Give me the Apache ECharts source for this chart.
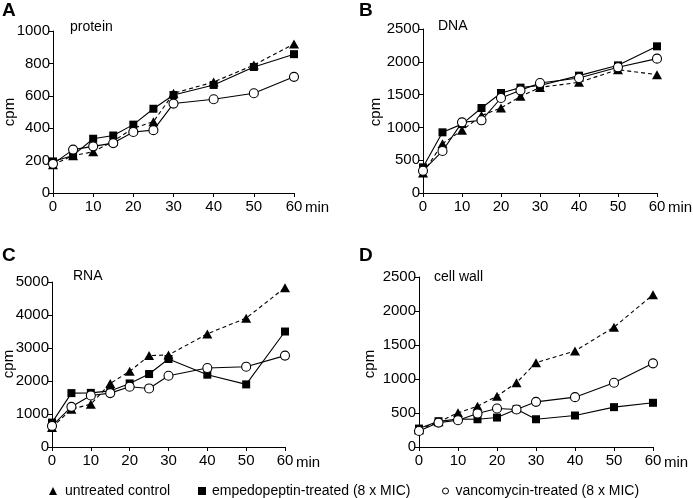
<!DOCTYPE html>
<html>
<head>
<meta charset="utf-8">
<script src="https://cdn.jsdelivr.net/npm/echarts@6/dist/echarts.min.js"></script>
<style>
html,body{margin:0;padding:0;background:#fff;}
#c{width:693px;height:498px;}
</style>
</head>
<body>
<div id="c"></div>
<script>
// ---- data ----
const times = [0, 5, 10, 15, 20, 25, 30, 40, 50, 60];
const xTicks = [0, 10, 20, 30, 40, 50, 60];

const proteinControl = [175, 230, 255, 320, 400, 440, 615, 685, 790, 920];
const proteinEmped   = [195, 232, 335, 355, 422, 520, 605, 667, 778, 857];
const proteinVanco   = [180, 268, 288, 308, 377, 388, 552, 579, 616, 717];

const dnaControl = [305, 752, 955, 1180, 1296, 1473, 1610, 1687, 1880, 1804];
const dnaEmped   = [391, 925, 1050, 1296, 1524, 1606, 1640, 1789, 1946, 2236];
const dnaVanco   = [340, 640, 1077, 1108, 1448, 1565, 1677, 1753, 1916, 2048];

const rnaControl = [590, 1146, 1298, 1927, 2292, 2769, 2789, 3428, 3905, 4828];
const rnaEmped   = [740, 1633, 1640, 1700, 1927, 2211, 2667, 2191, 1897, 3499];
const rnaVanco   = [639, 1217, 1562, 1633, 1826, 1775, 2160, 2394, 2434, 2769];

const wallControl = [255, 370, 502, 600, 748, 945, 1240, 1412, 1762, 2239];
const wallEmped   = [271, 379, 410, 408, 433, 556, 408, 463, 586, 650];
const wallVanco   = [236, 359, 394, 492, 566, 551, 664, 733, 945, 1230];

const seriesNames = ['untreated control', 'empedopeptin-treated (8 x MIC)', 'vancomycin-treated (8 x MIC)'];
const panelLetters = ['A', 'B', 'C', 'D'];
const panelTitles = ['protein', 'DNA', 'RNA', 'cell wall'];
const yMax = [1000, 2500, 5000, 2500];
const yStep = [200, 500, 1000, 500];

// ---- layout ----
const FONT = '"Liberation Sans", Arial, Helvetica, sans-serif';
const grids = [
  {left: 53, top: 31, width: 241, height: 162},
  {left: 423, top: 29, width: 234, height: 164},
  {left: 52, top: 282, width: 233, height: 165},
  {left: 419, top: 277, width: 234, height: 170}
];
const panelData = [
  [proteinControl, proteinEmped, proteinVanco],
  [dnaControl, dnaEmped, dnaVanco],
  [rnaControl, rnaEmped, rnaVanco],
  [wallControl, wallEmped, wallVanco]
];

const pair = arr => times.map((t, i) => [t, arr[i]]);

const xAxes = [], yAxes = [], series = [], graphics = [];
grids.forEach((g, k) => {
  xAxes.push({
    type: 'value', gridIndex: k, min: 0, max: 60, interval: 10,
    splitLine: {show: false},
    axisLine: {show: true, onZero: false, lineStyle: {color: '#000', width: 1}},
    axisTick: {show: true, length: 4, lineStyle: {color: '#000'}},
    axisLabel: {color: '#000', fontSize: 15, fontFamily: FONT, margin: 6, formatter: v => String(v)}
  });
  yAxes.push({
    type: 'value', gridIndex: k, min: 0, max: yMax[k], interval: yStep[k],
    splitLine: {show: false},
    axisLine: {show: true, lineStyle: {color: '#000', width: 1}},
    axisTick: {show: true, length: 4, lineStyle: {color: '#000'}},
    axisLabel: {color: '#000', fontSize: 15, fontFamily: FONT, margin: 3, formatter: v => String(v)}
  });
  const d = panelData[k];
  series.push({
    name: seriesNames[0], type: 'line', xAxisIndex: k, yAxisIndex: k,
    data: pair(d[0]), symbol: 'triangle', symbolSize: [10, 9],
    itemStyle: {color: '#000'}, lineStyle: {color: '#000', width: 1.1, type: [4, 3]},
    animation: false, z: 2
  });
  series.push({
    name: seriesNames[1], type: 'line', xAxisIndex: k, yAxisIndex: k,
    data: pair(d[1]), symbol: 'rect', symbolSize: 8,
    itemStyle: {color: '#000'}, lineStyle: {color: '#000', width: 1.1},
    animation: false, z: 3
  });
  series.push({
    name: seriesNames[2], type: 'line', xAxisIndex: k, yAxisIndex: k,
    data: pair(d[2]), symbol: 'circle', symbolSize: 9, showAllSymbol: true,
    itemStyle: {color: '#fff', borderColor: '#000', borderWidth: 1.1},
    lineStyle: {color: '#000', width: 1.1},
    animation: false, z: 4
  });
});

// panel letters, titles, axis names
const letterPos = [[2, 10], [359, 10], [2, 255], [359, 255]];
const titlePos = [[70, 27], [438, 26], [73, 276], [434, 277]];
const cpmPos = [[10, 112], [376, 112], [9, 364], [370, 364]];
const minPos = [[305, 208], [668, 208], [296, 463], [664, 463]];
for (let k = 0; k < 4; k++) {
  graphics.push({type: 'text', left: letterPos[k][0], top: letterPos[k][1] - 9,
    style: {text: panelLetters[k], font: 'bold 19px ' + FONT, fill: '#000'}});
  graphics.push({type: 'text', x: titlePos[k][0], y: titlePos[k][1],
    style: {text: panelTitles[k], font: '14px ' + FONT, fill: '#000', textVerticalAlign: 'middle'}});
  graphics.push({type: 'text', x: cpmPos[k][0], y: cpmPos[k][1], rotation: Math.PI / 2,
    style: {text: 'cpm', font: '15px ' + FONT, fill: '#000', textAlign: 'center', textVerticalAlign: 'middle'}});
  graphics.push({type: 'text', x: minPos[k][0], y: minPos[k][1],
    style: {text: 'min', font: '15px ' + FONT, fill: '#000', textVerticalAlign: 'middle'}});
}

const legendBase = {
  orient: 'horizontal', top: 479, itemWidth: 8, itemHeight: 8,
  textStyle: {color: '#000', fontSize: 14, fontFamily: FONT},
  selectedMode: false
};
const legends = [
  Object.assign({}, legendBase, {left: 44, data: [{name: seriesNames[0], icon: 'triangle', itemStyle: {color: '#000'}}],
    textStyle: Object.assign({}, legendBase.textStyle, {padding: [0, 0, 0, 3]})}),
  Object.assign({}, legendBase, {left: 193, data: [{name: seriesNames[1], icon: 'rect', itemStyle: {color: '#000'}}],
    textStyle: Object.assign({}, legendBase.textStyle, {padding: [0, 0, 0, 1]})}),
  Object.assign({}, legendBase, {left: 437, itemWidth: 6, itemHeight: 6,
    data: [{name: seriesNames[2], icon: 'circle', itemStyle: {color: '#fff', borderColor: '#000', borderWidth: 1}}],
    textStyle: Object.assign({}, legendBase.textStyle, {padding: [0, 0, 0, 2]})})
];

const chart = echarts.init(document.getElementById('c'), null, {renderer: 'canvas'});
chart.setOption({
  backgroundColor: '#fff',
  animation: false,
  grid: grids,
  xAxis: xAxes,
  yAxis: yAxes,
  series: series,
  legend: legends,
  graphic: graphics
});
</script>
</body>
</html>
